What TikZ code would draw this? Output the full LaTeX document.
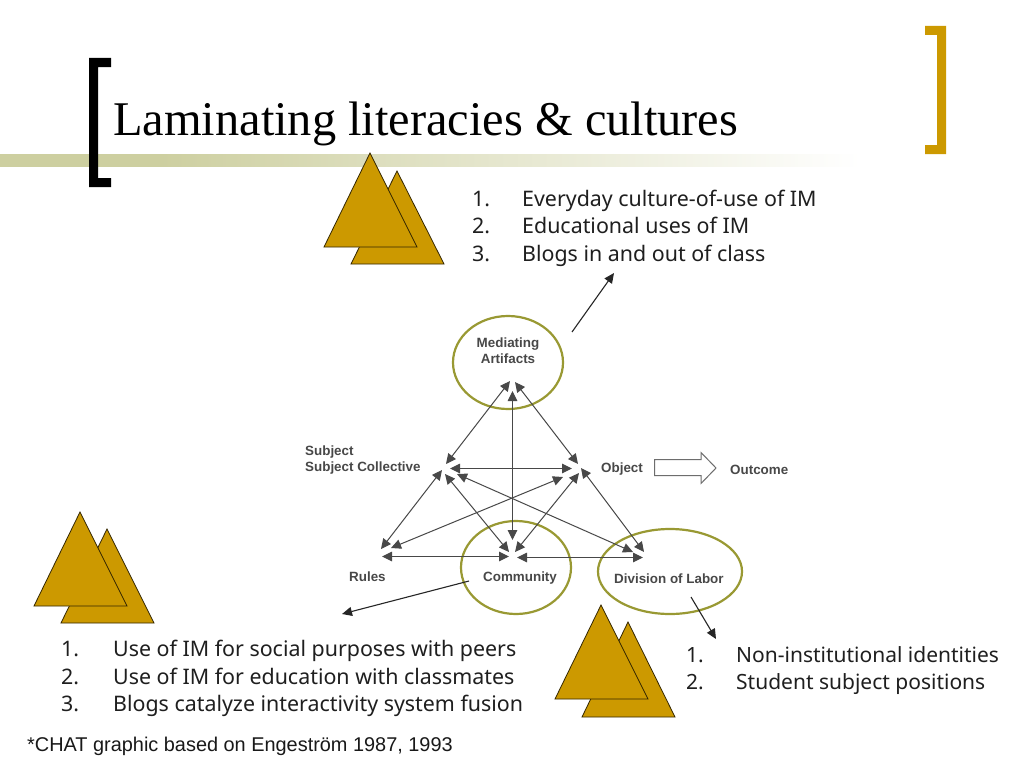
\documentclass[tikz,border=0pt]{standalone}
\usepackage{fontspec}
\setmainfont{Liberation Serif}
\newfontfamily\bodyf{Noto Sans}
\newfontfamily\labelf{Liberation Sans}
\usetikzlibrary{arrows.meta,shapes.geometric}
\definecolor{gold}{HTML}{CC9900}
\definecolor{olive}{HTML}{999933}
\definecolor{bar}{HTML}{CDCFA0}
\definecolor{ink}{HTML}{484848}
\pgfdeclarehorizontalshading{barfade}{100bp}{color(0bp)=(bar); color(32.8bp)=(bar); color(67bp)=(white); color(100bp)=(white)}
\tikzset{
  tri/.style={draw=black!75!gold,line width=0.8pt,fill=gold,line join=miter},
  ring/.style={draw=olive,line width=2.2pt,ellipse,inner sep=0pt,outer sep=0pt},
  lab/.style={font=\labelf\bfseries\fontsize{13.4}{16}\selectfont,text=ink,inner sep=0pt},
  lst/.style={font=\bodyf\fontsize{21.4}{24}\selectfont,text=black!88,inner sep=0pt,anchor=base west},
  lstb/.style={lst,font=\bodyf\fontsize{21}{24}\selectfont},
  twoway/.style={draw=ink,line width=1pt,{Triangle[length=10pt,width=9.5pt]}-{Triangle[length=10pt,width=9.5pt]}},
  oneway/.style={draw=black!85,line width=1.1pt,-{Triangle[length=10pt,width=9pt]}}
}
\begin{document}
\begin{tikzpicture}[x=1pt,y=-1pt]
\useasboundingbox (0,0) rectangle (1024,768);
\fill[white] (0,0) rectangle (1024,768);
% title bar
\shade[shading=barfade] (0,154) rectangle (1024,166);
% brackets
\fill[black] (111,58) -- (89,58) -- (89,187) -- (111,187) -- (111,178) -- (98,178) -- (98,67) -- (111,67) -- cycle;
\fill[gold] (925,26) -- (946,26) -- (946,154) -- (925,154) -- (925,145) -- (937,145) -- (937,35) -- (925,35) -- cycle;
\node[anchor=base west,inner sep=0pt,font=\fontsize{48.4}{50}\selectfont] (title) at (113,135) {Laminating literacies \& cultures};
% triangles
\draw[tri] (397,171) -- (351,264) -- (444,264) -- cycle;
\draw[tri] (370,153) -- (324,247) -- (417,247) -- cycle;
\draw[tri] (107,529) -- (61,623) -- (154,623) -- cycle;
\draw[tri] (80,512) -- (34,606) -- (127,606) -- cycle;
\draw[tri] (628,622) -- (582,717) -- (675,717) -- cycle;
\draw[tri] (601,605) -- (555,699) -- (648,699) -- cycle;
% lists
\node[lst] (n1a) at (472,206) {1.}; \node[lst] (t1a) at (522,206) {Everyday culture-of-use of IM};
\node[lst] (n1b) at (472,233) {2.}; \node[lst] (t1b) at (522,233) {Educational uses of IM};
\node[lst] (n1c) at (472,261) {3.}; \node[lst] (t1c) at (522,261) {Blogs in and out of class};
\node[lst] (n2a) at (61,656) {1.}; \node[lst] (t2a) at (113,656) {Use of IM for social purposes with peers};
\node[lst] (n2b) at (61,684) {2.}; \node[lst] (t2b) at (113,684) {Use of IM for education with classmates};
\node[lst] (n2c) at (61,711) {3.}; \node[lst] (t2c) at (113,711) {Blogs catalyze interactivity system fusion};
\node[lstb] (n3a) at (686,662) {1.}; \node[lstb] (t3a) at (736,662) {Non-institutional identities};
\node[lstb] (n3b) at (686,689) {2.}; \node[lstb] (t3b) at (736,689) {Student subject positions};
\node[anchor=base west,inner sep=0pt,font=\labelf\fontsize{19.9}{22}\selectfont,text=black!90] (foot) at (27,751) {*CHAT graphic based on Engeström 1987, 1993};
% ellipses
\node[ring,minimum width=110pt,minimum height=93pt] (med) at (508,362.5) {};
\node[ring,minimum width=110pt,minimum height=93pt] (com) at (516,567.5) {};
\node[ring,minimum width=144pt,minimum height=85pt] (div) at (670,571.5) {};
% labels
\node[lab,align=center] (medl) at (508,351) {Mediating\\Artifacts};
\node[lab,align=left,anchor=west] (subl) at (305,460) {Subject\\Subject Collective};
\node[lab,anchor=west] (objl) at (601,469) {Object};
\node[lab,anchor=west] (outl) at (730,470) {Outcome};
\node[lab,anchor=west] (rull) at (349,577) {Rules};
\node[lab,anchor=west] (coml) at (483,578) {Community};
\node[lab,anchor=west] (divl) at (614,579) {Division of Labor};
% hub points
\coordinate (mL) at (510,381); \coordinate (mC) at (512.5,391); \coordinate (mR) at (515,382);
\coordinate (sT) at (446,464); \coordinate (sH) at (450,468.5); \coordinate (sB) at (442,470);
\coordinate (sC) at (445,474); \coordinate (sD) at (457,474);
\coordinate (oT) at (578,464); \coordinate (oH) at (572,468.5); \coordinate (oR) at (563,477);
\coordinate (oC) at (579,473); \coordinate (oD) at (581,468);
\coordinate (rS) at (381,549); \coordinate (rO) at (391,548); \coordinate (rC) at (382,556.5);
\coordinate (cM) at (512.5,540); \coordinate (cS) at (509,552); \coordinate (cO) at (515,552);
\coordinate (cR) at (509,556.5); \coordinate (cD) at (517,557.5);
\coordinate (dS) at (633,552); \coordinate (dO) at (644,552); \coordinate (dC) at (643,557.5);
% two-way arrows
\draw[twoway] (mL) -- (sT);
\draw[twoway] (mC) -- (cM);
\draw[twoway] (mR) -- (oT);
\draw[twoway] (sH) -- (oH);
\draw[twoway] (sB) -- (rS);
\draw[twoway] (sC) -- (cS);
\draw[twoway] (sD) -- (dS);
\draw[twoway] (oR) -- (rO);
\draw[twoway] (oC) -- (cO);
\draw[twoway] (oD) -- (dO);
\draw[twoway] (rC) -- (cR);
\draw[twoway] (cD) -- (dC);
% outcome block arrow
\draw[draw=ink!80,line width=1pt,fill=white] (654.5,459.5) -- (701,459.5) -- (701,452.5) -- (716,468) -- (701,483.5) -- (701,475.5) -- (654.5,475.5) -- cycle;
% annotation arrows
\coordinate (a1s) at (572,332); \coordinate (a1e) at (614,273);
\coordinate (a2s) at (469,581); \coordinate (a2e) at (342,614);
\coordinate (a3s) at (691,597); \coordinate (a3e) at (716,639);
\draw[oneway] (a1s) -- (a1e);
\draw[oneway] (a2s) -- (a2e);
\draw[oneway] (a3s) -- (a3e);
\end{tikzpicture}
\end{document}
